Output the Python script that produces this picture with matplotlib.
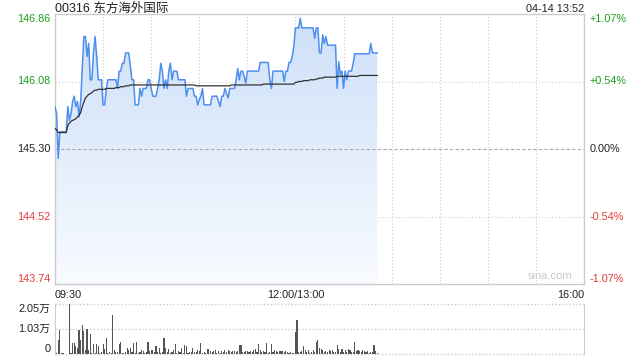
import numpy as np
import matplotlib
matplotlib.use('Agg')
import matplotlib.pyplot as plt
from matplotlib.colors import LinearSegmentedColormap
from matplotlib.patches import PathPatch

plt.rcParams['font.family'] = ['Liberation Sans', 'Noto Sans CJK SC', 'DejaVu Sans']

title = '00316 东方海外国际'
stamp = '04-14 13:52'
prev_close = 145.30
price_ticks = [146.86, 146.08, 145.30, 144.52, 143.74]
pct_ticks = ['+1.07%', '+0.54%', '0.00%', '-0.54%', '-1.07%']
time_labels = ['09:30', '12:00/13:00', '16:00']
vol_ticks = [2.05, 1.03, 0]
vol_tick_labels = ['2.05万', '1.03万', '0']

# one value per trading minute from 09:30
price = [
    145.79, 145.71, 145.19, 145.50, 145.50, 145.50, 145.50, 145.50, 145.79, 145.63,
    145.71, 145.85, 145.91, 145.79, 145.85, 145.67, 145.85, 146.23, 146.60, 146.60,
    146.37, 146.52, 146.10, 146.10, 146.41, 146.60, 146.37, 146.10, 146.10, 146.10,
    145.81, 145.81, 146.00, 146.10, 146.10, 146.10, 146.10, 146.10, 146.10, 146.00,
    146.20, 146.20, 146.29, 146.29, 146.41, 146.41, 146.41, 146.26, 146.10, 146.10,
    145.81, 145.81, 145.81, 146.00, 145.91, 146.00, 146.00, 146.00, 146.10, 146.10,
    146.00, 145.91, 145.91, 145.91, 146.00, 146.10, 146.29, 146.20, 146.00, 146.10,
    146.00, 146.20, 146.29, 146.10, 146.20, 146.20, 146.20, 146.10, 146.10, 146.10,
    146.10, 146.10, 145.91, 146.00, 146.00, 146.00, 146.00, 145.91, 145.91, 145.81,
    145.87, 145.91, 146.00, 145.81, 145.81, 145.81, 145.81, 145.81, 145.91, 145.91,
    145.91, 145.91, 145.85, 145.79, 145.91, 145.91, 146.00, 145.94, 145.89, 146.00,
    146.00, 146.00, 146.00, 146.10, 146.23, 146.10, 146.20, 146.20, 146.14, 146.06,
    146.20, 146.20, 146.20, 146.20, 146.20, 146.20, 146.20, 146.20, 146.30, 146.30,
    146.30, 146.30, 146.30, 146.30, 146.10, 146.00, 146.20, 146.20, 146.20, 146.20,
    146.20, 146.20, 146.20, 146.08, 146.20, 146.20, 146.30, 146.30, 146.37, 146.49,
    146.70, 146.70, 146.70, 146.81, 146.70, 146.70, 146.70, 146.70, 146.70, 146.70,
    146.70, 146.70, 146.58, 146.70, 146.70, 146.41, 146.41, 146.62, 146.52, 146.60,
    146.50, 146.50, 146.50, 146.50, 146.50, 146.50, 146.00, 146.31, 146.16, 146.20,
    146.00, 146.20, 146.10, 146.20, 146.20, 146.20, 146.29, 146.40, 146.40, 146.40,
    146.40, 146.40, 146.40, 146.40, 146.40, 146.40, 146.40, 146.52, 146.41, 146.41,
    146.41, 146.41,
]

avg_price = [
    145.54, 145.52, 145.49, 145.49, 145.49, 145.49, 145.49, 145.49, 145.57, 145.60,
    145.62, 145.63, 145.64, 145.65, 145.67, 145.69, 145.72, 145.79, 145.84, 145.89,
    145.91, 145.93, 145.94, 145.95, 145.97, 145.98, 145.98, 145.99, 145.99, 145.99,
    145.99, 145.99, 146.00, 146.00, 146.00, 146.00, 146.00, 146.00, 146.01, 146.01,
    146.01, 146.02, 146.02, 146.02, 146.03, 146.03, 146.03, 146.04, 146.04, 146.04,
    146.04, 146.04, 146.04, 146.04, 146.04, 146.04, 146.04, 146.04, 146.04, 146.04,
    146.04, 146.04, 146.04, 146.04, 146.04, 146.04, 146.04, 146.04, 146.04, 146.04,
    146.04, 146.04, 146.04, 146.04, 146.04, 146.04, 146.04, 146.04, 146.04, 146.04,
    146.04, 146.04, 146.04, 146.04, 146.04, 146.04, 146.04, 146.04, 146.03, 146.03,
    146.03, 146.03, 146.03, 146.03, 146.03, 146.03, 146.03, 146.03, 146.03, 146.03,
    146.03, 146.03, 146.03, 146.03, 146.03, 146.03, 146.03, 146.03, 146.03, 146.03,
    146.04, 146.04, 146.04, 146.04, 146.04, 146.04, 146.04, 146.04, 146.04, 146.04,
    146.04, 146.04, 146.04, 146.04, 146.04, 146.04, 146.04, 146.04, 146.04, 146.04,
    146.05, 146.05, 146.05, 146.05, 146.05, 146.05, 146.05, 146.05, 146.05, 146.05,
    146.05, 146.05, 146.05, 146.05, 146.05, 146.05, 146.05, 146.05, 146.05, 146.05,
    146.07, 146.07, 146.08, 146.08, 146.08, 146.09, 146.09, 146.09, 146.09, 146.10,
    146.10, 146.10, 146.10, 146.11, 146.11, 146.12, 146.12, 146.12, 146.13, 146.13,
    146.13, 146.13, 146.13, 146.13, 146.13, 146.13, 146.14, 146.14, 146.14, 146.14,
    146.14, 146.14, 146.14, 146.14, 146.14, 146.14, 146.14, 146.14, 146.14, 146.14,
    146.15, 146.15, 146.15, 146.15, 146.15, 146.15, 146.15, 146.15, 146.15, 146.15,
    146.15, 146.15,
]

# volume in 万 shares
volume = [
    0.52, 0.05, 0.58, 0.98, 0.04, 0.03, 0.02, 0.02, 0.02, 2.05,
    0.05, 0.47, 0.47, 0.33, 0.24, 0.98, 0.58, 1.17, 0.93, 0.17,
    1.03, 0.17, 0.84, 0.05, 0.40, 0.05, 0.42, 0.33, 0.05, 0.10,
    0.42, 0.21, 0.66, 0.05, 0.08, 0.05, 1.59, 0.17, 0.10, 0.08,
    0.40, 0.49, 0.05, 0.05, 0.08, 0.26, 0.17, 0.24, 0.08, 0.47,
    0.05, 0.50, 0.05, 0.08, 0.17, 0.14, 0.05, 0.08, 0.50, 0.14,
    0.17, 0.17, 0.08, 0.33, 0.07, 0.24, 0.05, 0.08, 0.66, 0.24,
    0.10, 0.19, 0.05, 0.08, 0.17, 0.42, 0.05, 0.14, 0.08, 0.24,
    0.05, 0.38, 0.33, 0.05, 0.08, 0.10, 0.24, 0.10, 0.08, 0.17,
    0.14, 0.45, 0.05, 0.08, 0.05, 0.19, 0.19, 0.14, 0.08, 0.14,
    0.17, 0.05, 0.14, 0.05, 0.14, 0.10, 0.17, 0.08, 0.17, 0.14,
    0.08, 0.14, 0.14, 0.08, 0.14, 0.38, 0.38, 0.07, 0.08, 0.14,
    0.14, 0.10, 0.14, 0.08, 0.17, 0.20, 0.08, 0.42, 0.17, 0.10,
    0.14, 0.08, 0.47, 0.06, 0.08, 0.42, 0.10, 0.17, 0.14, 0.08,
    0.14, 0.14, 0.14, 0.08, 0.14, 0.10, 0.06, 0.08, 0.05, 0.05,
    0.89, 1.38, 0.07, 0.08, 0.14, 0.33, 0.17, 0.10, 0.17, 0.06,
    0.08, 0.17, 0.08, 0.50, 0.58, 0.24, 0.20, 0.17, 0.08, 0.14,
    0.08, 0.17, 0.14, 0.17, 0.08, 0.10, 0.38, 0.20, 0.10, 0.20,
    0.10, 0.17, 0.08, 0.20, 0.17, 0.08, 0.08, 0.50, 0.14, 0.17,
    0.14, 0.10, 0.17, 0.14, 0.08, 0.14, 0.06, 0.08, 0.08, 0.38,
    0.14, 0.05,
]

total_minutes = 330
green = '#1a9e1a'
red = '#e53935'
dark = '#222222'
border = '#cccccc'

fig = plt.figure(figsize=(6.4, 3.6), dpi=100)
ax = fig.add_axes([55 / 640, 1 - 284 / 360, 529 / 640, 270 / 360])
vax = fig.add_axes([55 / 640, 1 - 354 / 360, 529 / 640, 50 / 360])

x = np.arange(len(price))
ymin, ymax = price_ticks[-1], price_ticks[0]

# gradient fill under the price line
fill = ax.fill_between(x, price, ymin, color='none')
clip = PathPatch(fill.get_paths()[0], transform=ax.transData, facecolor='none', edgecolor='none')
ax.add_patch(clip)
cmap = LinearSegmentedColormap.from_list('fade', ['#f8fbff', '#cddff8'])
grad = np.linspace(0, 1, 256).reshape(-1, 1)
img = ax.imshow(grad, extent=[0, x[-1], ymin, ymax], origin='lower', aspect='auto', cmap=cmap, zorder=1)
img.set_clip_path(clip)

ax.plot(x, price, color='#4d8ff0', lw=1.1, zorder=3)
ax.plot(x, avg_price, color='#333333', lw=0.9, zorder=4)

for m in range(30, total_minutes, 30):
    ax.axvline(m, color=border, lw=0.8, ls=(0, (1, 2)), zorder=0)
for p in [price_ticks[1], price_ticks[3]]:
    ax.axhline(p, color=border, lw=0.8, ls=(0, (1, 2)), zorder=0)
ax.axhline(prev_close, color='#aaaaaa', lw=0.8, ls=(0, (3, 2)), zorder=2)

ax.set_xlim(0, total_minutes)
ax.set_ylim(ymin, ymax)
ax.set_xticks([])
ax.set_yticks([])
for s in ax.spines.values():
    s.set_color(border)
    s.set_linewidth(1)

colors = [green, green, dark, red, red]
yt = ax.get_yaxis_transform()
for i, (p, lab, c) in enumerate(zip(price_ticks, pct_ticks, colors)):
    va = 'top' if i == 0 else ('bottom' if i == len(price_ticks) - 1 else 'center')
    ax.text(-0.008, p, f'{p:.2f}', transform=yt, ha='right', va=va, color=c, fontsize=7.8)
    ax.text(1.011, p, lab, transform=yt, ha='left', va=va, color=c, fontsize=7.8)

ax.text(0, 1.0065, title, transform=ax.transAxes, ha='left', va='baseline', fontsize=9, color=dark)
ax.text(1, 1.0085, stamp, transform=ax.transAxes, ha='right', va='baseline', fontsize=7.8, color=dark)
ax.text(0.978, 0.012, 'sina.com', transform=ax.transAxes, ha='right', va='bottom', fontsize=8, color='#c8c8c8')

xt = ax.get_xaxis_transform()
ax.text(0, -0.022, time_labels[0], transform=xt, ha='left', va='top', fontsize=7.8, color=dark)
ax.text(150, -0.022, time_labels[1], transform=xt, ha='center', va='top', fontsize=7.8, color=dark)
ax.text(total_minutes, -0.022, time_labels[2], transform=xt, ha='right', va='top', fontsize=7.8, color=dark)

# volume panel
vax.bar(x, volume, width=0.7, color='#555555', zorder=2)
for v in vol_ticks:
    vax.axhline(v, color=border, lw=1, ls=(0, (1, 1.5)), zorder=0, clip_on=False)
vax.set_xlim(0, total_minutes)
vax.set_ylim(0, vol_ticks[0])
vax.set_xticks([])
vax.set_yticks([])
for side in ['top', 'bottom']:
    vax.spines[side].set_visible(False)
for side in ['left', 'right']:
    vax.spines[side].set_color(border)
vyt = vax.get_yaxis_transform()
for i, (v, lab) in enumerate(zip(vol_ticks, vol_tick_labels)):
    va = 'top' if i == 0 else ('bottom' if i == len(vol_ticks) - 1 else 'center')
    vax.text(-0.008, v, lab, transform=vyt, ha='right', va=va, fontsize=7.8, color=dark)

fig.savefig('out.png', dpi=100)
